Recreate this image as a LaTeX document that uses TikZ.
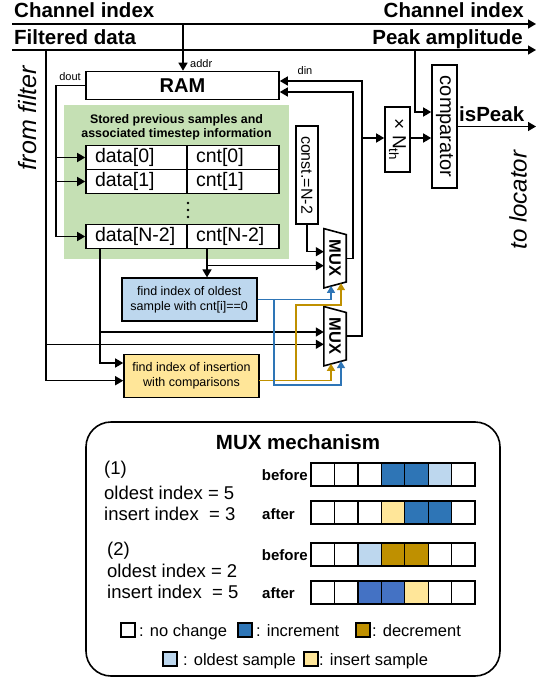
\documentclass[tikz,border=0pt]{standalone}
\usepackage{fontspec}
\usepackage{graphicx}
\setmainfont{Liberation Sans}
\usetikzlibrary{arrows.meta,calc}
\definecolor{stgreen}{RGB}{197,224,180}
\definecolor{oldb}{RGB}{189,215,238}
\definecolor{insy}{RGB}{255,230,153}
\definecolor{incb}{RGB}{46,117,182}
\definecolor{incc}{RGB}{68,114,196}
\definecolor{decg}{RGB}{191,144,0}
\definecolor{wblue}{RGB}{46,117,182}
\definecolor{wgold}{RGB}{191,144,0}
\newcommand{\fz}[1]{\fontsize{#1}{\dimexpr #1pt*6/5\relax}\selectfont}
\begin{document}
\begin{tikzpicture}[x=1pt,y=-1pt,
  every node/.style={inner sep=0pt},
  wire/.style={line width=1.5pt},
  arr/.style={wire,-{Triangle[length=8pt,width=9pt]}},
  barr/.style={line width=1.5pt,draw=wblue,-{Triangle[length=7pt,width=8pt]}},
  garr/.style={line width=1.5pt,draw=wgold,-{Triangle[length=7pt,width=8pt]}},
  box/.style={draw,line width=1.6pt,inner sep=0pt},
  cell/.style={box,fill=white,minimum height=24pt,inner xsep=9pt,text width=#1,align=left,font=\fz{19.5}},
  mux/.style={minimum width=22pt,minimum height=59pt,inner sep=0pt,font=\bfseries\fz{16.5}},
  sq/.style={draw,line width=1.3pt,minimum width=23.43pt,minimum height=23pt,inner sep=0pt},
  lsq/.style={draw,line width=1.3pt,minimum size=14pt,inner sep=0pt},
  toplbl/.style={font=\bfseries\fz{20.5}},
  small/.style={font=\fz{11}},
  casetxt/.style={anchor=base west,font=\fz{18.5}},
  ba/.style={font=\bfseries\fz{15}},
  leg/.style={anchor=base west,font=\fz{16.5}}
]
\useasboundingbox (0,0) rectangle (544,679);

% top signal lines
\node[toplbl,anchor=base west] (chL) at (14,18) {Channel index};
\node[toplbl,anchor=base east] (chR) at (524,18) {Channel index};
\node[toplbl,anchor=base west] (fdL) at (14,45) {Filtered data};
\node[toplbl,anchor=base east] (paR) at (523,45) {Peak amplitude};
\coordinate (chS) at (12,24); \coordinate (chE) at (536,24);
\coordinate (fdS) at (12,50); \coordinate (fdE) at (536,50);
\draw[arr] (chS) -- (chE);
\draw[arr] (fdS) -- (fdE);

% side labels
\node[rotate=90,font=\itshape\fz{25}] (ff) at (28,118) {from filter};
\node[rotate=90,font=\itshape\fz{24}] (tol) at (518,200) {to locator};

% green storage area
\node[fill=stgreen,minimum width=225pt,minimum height=154pt,anchor=north west] (store) at (64,105) {};
\node[align=center,font=\bfseries\fontsize{12.4}{14.5}\selectfont] (sttl) at (176.5,127.5) {Stored previous samples and\\associated timestep information};

% RAM
\node[box,fill=white,minimum width=193pt,minimum height=28pt,font=\bfseries\fz{20}] (ram) at (182.5,85.5) {RAM};
\coordinate (addrT) at (183,24);
\draw[arr] (addrT) -- (addrT |- ram.north);
\node[small,anchor=west] (addr) at (190,64) {addr};
\node[small] (dout) at (70,77) {dout};
\node[small] (din) at (305,71) {din};

% table
\node[cell=83pt] (d0) at (136.5,157.5) {data[0]};
\node[cell=74pt] (c0) at (233,157.5) {cnt[0]};
\node[cell=83pt] (d1) at (136.5,181.5) {data[1]};
\node[cell=74pt] (c1) at (233,181.5) {cnt[1]};
\node[cell=83pt] (dN) at (136.5,236.5) {data[N-2]};
\node[cell=74pt] (cN) at (233,236.5) {cnt[N-2]};
\foreach \yy in {203,210,217} \fill (188,\yy) circle[radius=1.4pt];

% dout distribution
\coordinate (dl) at (56,85.5);
\draw[arr] (ram.west) -- (dl) |- (dN.west);
\draw[arr] (dl |- d0.west) -- (d0.west);
\draw[arr] (dl |- d1.west) -- (d1.west);

% const box and muxes
\node[box,minimum width=22pt,minimum height=98pt,font=\fz{16}] (cst) at (307,175) {\rotatebox{-90}{const.=N-2}};
\node[mux] (m1) at (335,258.3) {\rotatebox{-90}{MUX}};
\node[mux] (m2) at (335,336.2) {\rotatebox{-90}{MUX}};
\foreach \m in {m1,m2}
  \draw[line width=1.6pt,line join=miter] (\m.north west) -- ([yshift=-6pt]\m.north east) -- ([yshift=6pt]\m.south east) -- (\m.south west) -- cycle;

% processing boxes
\node[box,fill=oldb,minimum width=135pt,minimum height=43pt,align=center,font=\fontsize{12.5}{15}\selectfont] (old) at (189.2,299.7) {find index of oldest\\sample with cnt[i]==0};
\node[box,fill=insy,minimum width=135pt,minimum height=43pt,align=center,font=\fontsize{12.5}{14.5}\selectfont] (yel) at (191.5,375.8) {find index of insertion\\with comparisons};

% MUX1 inputs
\coordinate (cstb) at (307,251.7);
\draw[arr] (cst.south) -- (cstb) -- (cstb -| m1.west);
\coordinate (cv) at (207,248.5); \coordinate (cvj) at (207,265.7);
\draw[arr] (cv) -- (cv |- old.north);
\draw[arr] (cvj) -- (cvj -| m1.west);

% MUX2 inputs and yellow inputs
\coordinate (dv) at (100,248.5); \coordinate (dvj) at (100,332); \coordinate (dvb) at (100,363);
\draw[arr] (dv) -- (dvb) -- (dvb -| yel.west);
\draw[arr] (dvj) -- (dvj -| m2.west);
\coordinate (fv) at (46,50); \coordinate (fvj) at (46,344.3); \coordinate (fvb) at (46,380.7);
\draw[arr] (fv) -- (fvb) -- (fvb -| yel.west);
\draw[arr] (fvj) -- (fvj -| m2.west);

% select lines
\coordinate (s11) at (331,285.9); \coordinate (s12) at (341,283.2);
\coordinate (s21) at (331,363.8); \coordinate (s22) at (341,361.1);
\coordinate (gj) at (296,380.7); \coordinate (gt) at (296,305);
\coordinate (gs) at (259,380.7);
\draw[garr] (gs) -| (s21);
\draw[garr] (gj) -- (gt) -| (s12);
\coordinate (bj) at (274,299.7); \coordinate (bb) at (274,385);
\draw[barr] (old.east) -| (s11);
\draw[barr] (bj) -- (bb) -| (s22);

% MUX outputs to RAM din
\coordinate (r1) at (353,92); \coordinate (r2) at (362,81);
\draw[arr] (m1.east) -| (r1) -- (r1 -| ram.east);
\draw[arr] (m2.east) -| (r2) -- (r2 -| ram.east);

% threshold and comparator
\node[box,minimum width=25pt,minimum height=65pt,font=\fz{19}] (nth) at (397.5,139.5) {\rotatebox{-90}{× N\textsubscript{th}}};
\node[box,minimum width=25pt,minimum height=123pt,font=\fz{20}] (comp) at (444.5,126.5) {\rotatebox{-90}{comparator}};
\coordinate (nj) at (362,138);
\draw[arr] (nj) -- (nj -| nth.west);
\draw[arr] (nj -| nth.east) -- (nj -| comp.west);
\coordinate (pj) at (415,50); \coordinate (pb) at (415,112);
\draw[arr] (pj) -- (pb) -- (pb -| comp.west);
\coordinate (ipE) at (536,126.5);
\draw[arr] (comp.east) -- (ipE);
\node[toplbl,anchor=base west] (isp) at (459,122) {isPeak};

% MUX mechanism panel
\node[draw,line width=1.6pt,rounded corners=25pt,minimum width=414pt,minimum height=254pt] (mech) at (293,549) {};
\node[font=\bfseries\fz{20.5}] (mt) at (298,442) {MUX mechanism};
\node[casetxt] (t1) at (104,474) {(1)};
\node[casetxt] (t2) at (104,499) {oldest index = 5};
\node[casetxt] (t3) at (104,520) {insert index\ \ = 3};
\node[casetxt] (t4) at (107,555) {(2)};
\node[casetxt] (t5) at (107,577) {oldest index = 2};
\node[casetxt] (t6) at (107,598) {insert index\ \ = 5};
\node[ba,anchor=base east] (b1) at (308,480) {before};
\node[ba,anchor=base west] (a1) at (262,519) {after};
\node[ba,anchor=base east] (b2) at (308,560) {before};
\node[ba,anchor=base west] (a2) at (262,598) {after};
\foreach \rw/\yy/\cl in {1/474.5/{white,white,white,incb,incb,oldb,white},
                         2/512.5/{white,white,white,insy,incb,incb,white},
                         3/554.5/{white,white,oldb,decg,decg,white,white},
                         4/592.5/{white,white,incc,incc,insy,white,white}}{
  \foreach \c [count=\i] in \cl {
    \node[sq,fill=\c] (q\rw-\i) at ({311+23.43*(\i-0.5)},\yy) {};
  }
}
% legend
\node[lsq,fill=white] (l1) at (128,630) {};
\node[leg] (l1t) at (139,636) {: no change};
\node[lsq,fill=incb] (l2) at (245,630) {};
\node[leg] (l2t) at (256,636) {: increment};
\node[lsq,fill=decg] (l3) at (363,630) {};
\node[leg] (l3t) at (372,636) {: decrement};
\node[lsq,fill=oldb] (l4) at (170,659) {};
\node[leg] (l4t) at (183,665) {: oldest sample};
\node[lsq,fill=insy] (l5) at (311,659) {};
\node[leg] (l5t) at (319,665) {: insert sample};
\end{tikzpicture}
\end{document}
